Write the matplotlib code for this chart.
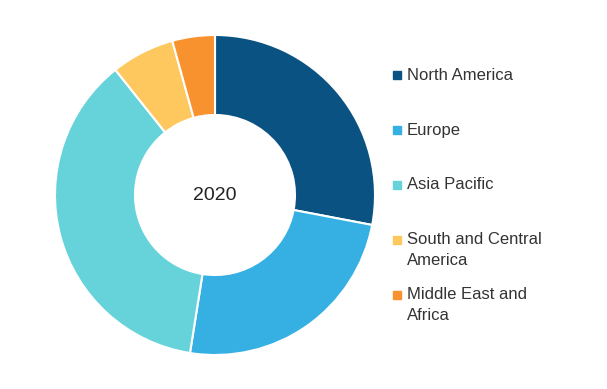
import matplotlib.pyplot as plt

regions = ["North America", "Europe", "Asia Pacific", "South and Central\nAmerica", "Middle East and\nAfrica"]
shares = [28.0, 24.5, 36.8, 6.4, 4.3]
colors = ["#0a5282", "#36b0e3", "#66d2da", "#fec85e", "#f8922f"]

fig = plt.figure(figsize=(6.07, 3.89), dpi=100)
ax = fig.add_axes([55 / 607, 34 / 389, 320 / 607, 320 / 389])

ax.pie(shares, colors=colors, startangle=90, counterclock=False,
       wedgeprops=dict(width=0.5, edgecolor="white", linewidth=1.5))
ax.set_xlim(-1, 1)
ax.set_ylim(-1, 1)
ax.set_aspect("equal")
ax.text(0, 0, "2020", ha="center", va="center", fontsize=14,
        family="Liberation Sans", color="#222222")

# legend by hand
legend_y = [75, 130, 185, 250, 305]
for name, c, y in zip(regions, colors, legend_y):
    first_y = y - 10 if "\n" in name else y
    fig.patches.append(plt.Rectangle((393 / 607, 1 - (first_y + 4) / 389), 8 / 607, 8 / 389,
                                     transform=fig.transFigure, color=c))
    fig.text(407 / 607, 1 - y / 389, name, ha="left", va="center", fontsize=12,
             family="Liberation Sans", color="#333333", linespacing=1.45)

plt.savefig("out.png")
